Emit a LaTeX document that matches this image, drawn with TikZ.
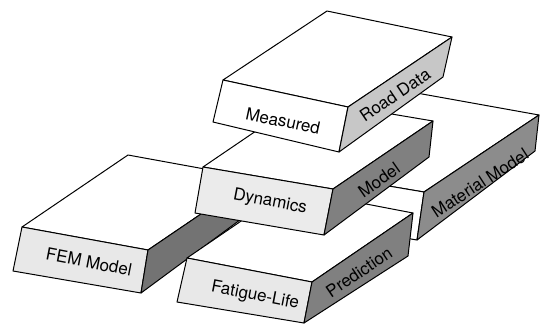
\documentclass[tikz,border=0pt]{standalone}
\usepackage{fontspec}
\setmainfont{TeX Gyre Heros}
\begin{document}
\begin{tikzpicture}[x=1pt,y=-1pt,
  edge/.style={draw=black, line width=1pt, line join=round},
  facetext/.style={font=\fontsize{17}{17}\selectfont, inner sep=0pt, text=black},
]
\useasboundingbox (0,0) rectangle (541,325);

% A slab: top face (1-2-3-4), front face (1-2-6-5), right face (2-3-7-6)
\newcommand\drawslab[9]{%
  \draw[edge, fill=white] (#1) -- (#2) -- (#3) -- (#4) -- cycle;
  \draw[edge, fill=#8] (#1) -- (#2) -- (#6) -- (#5) -- cycle;
  \draw[edge, fill=#9] (#2) -- (#3) -- (#7) -- (#6) -- cycle;
}

% back to front
\drawslab{294,170}{424,192}{539,115}{411,92}{287,218}{417,240}{535,151}{white}{black!45}    % material
\drawslab{22,227}{148,250}{254,178}{128,155}{13,271}{141,293}{248,214}{black!9}{black!55}   % FEM
\drawslab{187,258}{312,282}{413,213}{288,189}{177,302}{304,323}{408,256}{black!9}{black!50} % fatigue life
\drawslab{203,167}{333,189}{433,121}{303,99}{195,213}{324,235}{429,157}{black!8}{black!50}  % dynamics
\drawslab{223,80}{348,107}{452,37}{327,11}{213,122}{339,152}{443,77}{white}{black!22}       % road data

\node[facetext, rotate=-12] (meas) at (283,121) {Measured};
\node[facetext, rotate=34]  (road) at (395,95)  {Road Data};
\node[facetext, rotate=-11] (dyn)  at (270,202) {Dynamics};
\node[facetext, rotate=35]  (mdl)  at (379,180) {Model};
\node[facetext, rotate=-11] (fem)  at (89,262)  {FEM Model};
\node[facetext, rotate=-11] (fat)  at (255,296) {Fatigue-Life};
\node[facetext, rotate=34]  (pred) at (359,272) {Prediction};
\node[facetext, rotate=33]  (mat)  at (480,183) {Material Model};
\end{tikzpicture}
\end{document}
